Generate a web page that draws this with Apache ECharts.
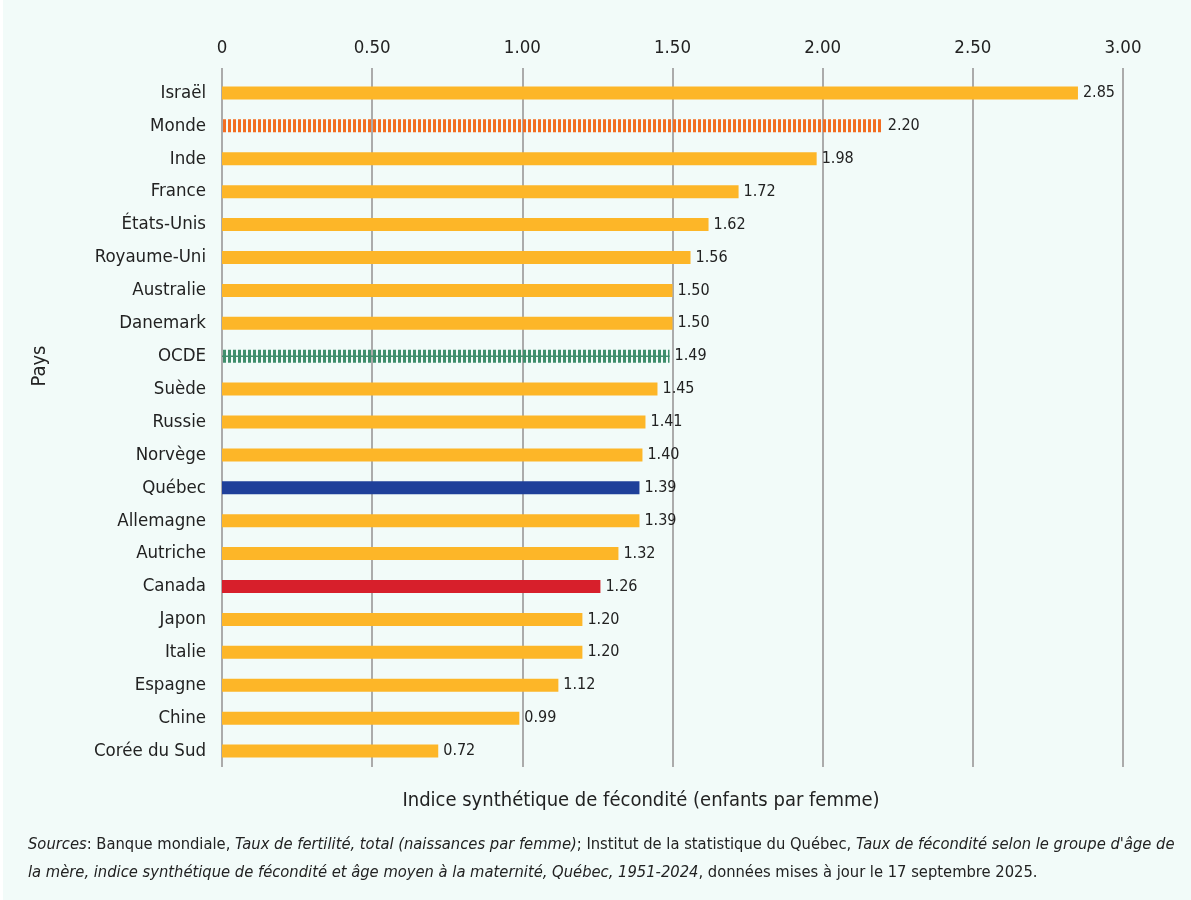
<!DOCTYPE html>
<html><head><meta charset="utf-8">
<script src="https://cdn.jsdelivr.net/npm/echarts@6/dist/echarts.min.js"></script>
<style>html,body{margin:0;padding:0;background:#fff;}#c{position:absolute;left:3px;top:0;width:1188px;height:900px;background:#F2FBF9;}</style>
</head><body><div id="c"></div>
<script>
const categories = ["Israël","Monde","Inde","France","États-Unis","Royaume-Uni","Australie","Danemark","OCDE","Suède","Russie","Norvège","Québec","Allemagne","Autriche","Canada","Japon","Italie","Espagne","Chine","Corée du Sud"];
const values = [2.85,2.20,1.98,1.72,1.62,1.56,1.50,1.50,1.49,1.45,1.41,1.40,1.39,1.39,1.32,1.26,1.20,1.20,1.12,0.99,0.72];
const xTicks = [0,0.5,1,1.5,2,2.5,3];
const FONT = '"Liberation Sans Narrow","DejaVu Sans Condensed","Roboto",sans-serif';

function stripe(color){
  const c=document.createElement('canvas');c.width=5;c.height=20;
  const ctx=c.getContext('2d');ctx.fillStyle=color;ctx.fillRect(0,0,3,20);return c;
}
const colorMap = {
  "Monde": {image: stripe('#F26D21'), repeat:'repeat'},
  "OCDE": {image: stripe('#3F8E6C'), repeat:'repeat'},
  "Québec": '#1F409A',
  "Canada": '#D71F2B'
};
const barData = categories.map((c,i)=>({value:values[i], itemStyle:{color: colorMap[c] || '#FDB628'}}));
const ocdeIdx = categories.indexOf('OCDE');

const chart = echarts.init(document.getElementById('c'), null, {renderer:'canvas'});
const fmt = v => v===0 ? '0' : v.toFixed(2);
chart.setOption({
  backgroundColor:'#F2FBF9',
  animation:false,
  grid:[
    {left:219, right:68, top:76.5, bottom:132.5, containLabel:false},
    {left:219, right:68, top:68, bottom:133, containLabel:false}
  ],
  xAxis:[
    {gridIndex:0, type:'value', min:0, max:3, interval:0.5, position:'top', axisLabel:{show:false}, splitLine:{show:false}, axisLine:{show:false}, axisTick:{show:false}},
    {gridIndex:1, type:'value', min:0, max:3, interval:0.5, position:'top',
     axisLabel:{formatter:fmt, fontFamily:FONT, fontSize:18.5, color:'#222', margin:10},
     splitLine:{show:true, lineStyle:{color:'#ABABAB', width:2}}, axisLine:{show:false}, axisTick:{show:false}}
  ],
  yAxis:[
    {gridIndex:0, type:'category', data:categories, inverse:true,
     axisLabel:{fontFamily:FONT, fontSize:18.5, color:'#222', margin:16},
     axisLine:{show:false}, axisTick:{show:false}},
    {gridIndex:1, type:'value', show:false}
  ],
  series:[
    {type:'bar', xAxisIndex:0, yAxisIndex:0, data:barData, barWidth:13, z:3,
     label:{show:true, position:'right', distance:5, formatter:p=>p.value.toFixed(2), fontFamily:FONT, fontSize:16, color:'#222'}},
    {type:'line', xAxisIndex:0, yAxisIndex:0, data:[[0,categories[ocdeIdx]],[values[ocdeIdx],categories[ocdeIdx]]], symbol:'none', z:4,
     lineStyle:{color:'#3F8E6C', width:1.5}, silent:true}
  ],
  graphic:[
    {type:'text', rotation:Math.PI/2, x:37, y:366, style:{text:'Pays', fontFamily:FONT, fontSize:20, fill:'#222', align:'center', verticalAlign:'middle'}},
    {type:'text', x:638, y:801, style:{text:'Indice synthétique de fécondité (enfants par femme)', fontFamily:FONT, fontSize:20, fill:'#222', align:'center', verticalAlign:'middle'}},
    {type:'text', x:25, y:859, style:{
      text:'{i|Sources}: Banque mondiale, {i|Taux de fertilité, total (naissances par femme)}; Institut de la statistique du Québec, {i|Taux de fécondité selon le groupe d\'âge de}\n{i|la mère, indice synthétique de fécondité et âge moyen à la maternité, Québec, 1951-2024}, données mises à jour le 17 septembre 2025.',
      fontFamily:FONT, fontSize:16.4, fill:'#222', lineHeight:28, verticalAlign:'middle',
      rich:{i:{fontStyle:'italic', fontFamily:FONT, fontSize:16.4, fill:'#222', lineHeight:28}}
    }}
  ]
});
</script></body></html>
